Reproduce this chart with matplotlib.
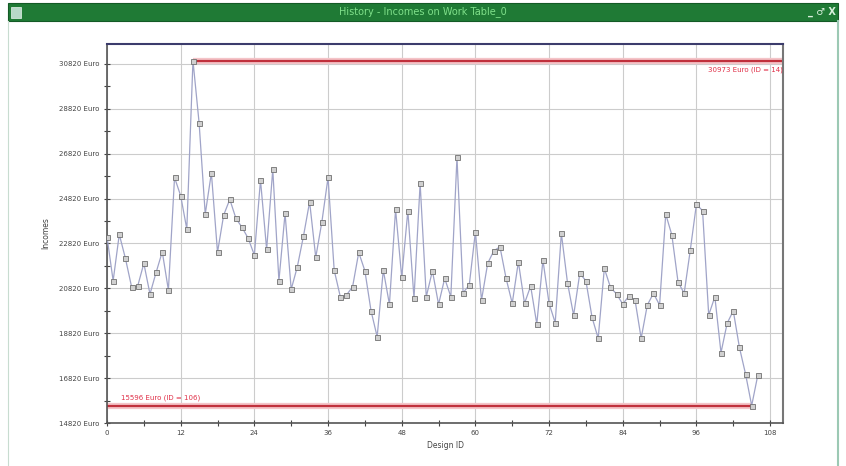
import numpy as np
import matplotlib
matplotlib.use("Agg")
import matplotlib.pyplot as plt
from matplotlib.patches import Rectangle

# Données
design_id = list(range(107))
incomes = [23118, 21158, 23225, 22156, 20891, 20922, 21933, 20566, 21532, 22450,
           20744, 25763, 24944, 23461, 30973, 28195, 24129, 25968, 22423, 24084,
           24784, 23937, 23536, 23047, 22303, 25643, 22557, 26120, 21158, 24160,
           20775, 21782, 23149, 24677, 22200, 23786, 25763, 21635, 20445, 20521,
           20891, 22423, 21603, 19822, 18664, 21635, 20107, 24338, 21309, 24276,
           20374, 25496, 20445, 21603, 20107, 21265, 20445, 26654, 20624, 20967,
           23341, 20298, 21933, 22494, 22672, 21265, 20151, 22004, 20151, 20922,
           19229, 22080, 20151, 19287, 23269, 21069, 19617, 21488, 21158, 19528,
           18593, 21710, 20864, 20566, 20120, 20477, 20298, 18593, 20076, 20597,
           20076, 24129, 23194, 21113, 20597, 22525, 24574, 24276, 19630, 20445,
           17951, 19261, 19822, 18192, 17002, 15596, 16958]

x_ticks = [0, 12, 24, 36, 48, 60, 72, 84, 96, 108]
y_ticks = [14820, 16820, 18820, 20820, 22820, 24820, 26820, 28820, 30820]
y_labels = ["{} Euro".format(v) for v in y_ticks]

titre = "History - Incomes on Work Table_0"

i_max = int(np.argmax(incomes))
i_min = int(np.argmin(incomes))
v_max = incomes[i_max]
v_min = incomes[i_min]

W, H = 846, 466
fig = plt.figure(figsize=(W / 100, H / 100), dpi=100)
fig.patch.set_facecolor("white")

# Cadre de fenêtre (barre de titre verte)
fig.patches.append(Rectangle((8 / W, 1 - 21 / H), 830 / W, 18 / H, transform=fig.transFigure,
                             facecolor="#1f7a35", edgecolor="#145a26", lw=0.8))
fig.patches.append(Rectangle((11 / W, 1 - 18 / H), 10 / W, 11 / H, transform=fig.transFigure,
                             facecolor="#b8d8c8", edgecolor="#e8f4ee", lw=0.5))
fig.text(0.5, 1 - 12 / H, titre, color="#7fe08a", fontsize=7, ha="center", va="center")
fig.text(836 / W, 1 - 12 / H, "_ \u2642 X", color="#d8f0dc", fontsize=7, ha="right",
         va="center", fontweight="bold")
fig.add_artist(plt.Line2D([838 / W, 838 / W], [0, 1 - 21 / H], color="#9cc9b4", lw=1.5))
fig.add_artist(plt.Line2D([8 / W, 8 / W], [0, 1 - 21 / H], color="#c8dcd0", lw=0.8))

ax = fig.add_axes([107 / W, 1 - 423 / H, (783 - 107) / W, (423 - 44) / H])

ax.plot(design_id, incomes, color="#a0a4c8", lw=0.9, marker="s", markersize=3.6,
        mfc="#d0d0d0", mec="#707070", mew=0.6, zorder=3)

# Lignes max / min
ax.plot([i_max, 110.1], [v_max, v_max], color="#f4c4c8", lw=4.5, solid_capstyle="butt", zorder=2)
ax.plot([i_max, 110.1], [v_max, v_max], color="#c0303c", lw=1.6, solid_capstyle="butt", zorder=2)
ax.plot([0, i_min], [v_min, v_min], color="#f4c4c8", lw=4.5, solid_capstyle="butt", zorder=2)
ax.plot([0, i_min], [v_min, v_min], color="#c0303c", lw=1.6, solid_capstyle="butt", zorder=2)
ax.text(110, v_max - 250, "{} Euro (ID = {})".format(v_max, i_max), color="#e03048",
        fontsize=5, ha="right", va="top")
ax.text(2.3, v_min + 200, "{} Euro (ID = {})".format(v_min, i_min + 1), color="#e03048",
        fontsize=5, ha="left", va="bottom")

ax.set_xlim(0, 110.1)
ax.set_ylim(14820, 31710)
ax.set_xticks(x_ticks)
ax.set_xticks(np.arange(6, 108, 12), minor=True)
ax.set_yticks(y_ticks)
ax.set_yticks(np.arange(15820, 31000, 2000), minor=True)
ax.set_yticklabels(y_labels)
ax.tick_params(axis="both", which="both", labelsize=5, colors="#444444", direction="inout",
               length=4, width=0.8)
ax.tick_params(axis="x", pad=3)

ax.grid(True, which="major", color="#cccccc", lw=0.8)
ax.set_axisbelow(True)

for s in ["left", "bottom"]:
    ax.spines[s].set_color("#555555")
    ax.spines[s].set_linewidth(1.2)
ax.spines["top"].set_color("#3c3c6c")
ax.spines["top"].set_linewidth(1.5)
ax.spines["right"].set_color("#777777")
ax.spines["right"].set_linewidth(1.5)

ax.set_xlabel("Design ID", fontsize=5.5, color="#444444", labelpad=4)
ax.set_ylabel("Incomes", fontsize=5.5, color="#444444", labelpad=6)

fig.savefig("out.png", dpi=100)
